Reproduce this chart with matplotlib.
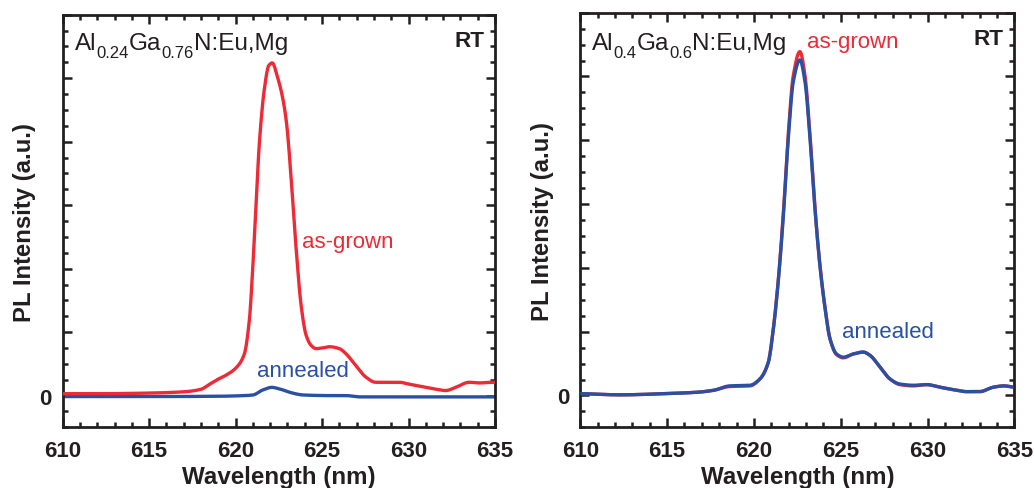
import matplotlib
matplotlib.use("Agg")
import matplotlib.pyplot as plt
import numpy as np
from matplotlib.ticker import MultipleLocator, FixedLocator

plt.rcParams['font.family'] = ['Liberation Sans', 'DejaVu Sans']

RED = '#ec2b36'
BLUE = '#2a50a4'
INK = '#231f20'

# Left panel: Al0.24Ga0.76N:Eu,Mg
wl_left_grown = [610, 612, 615, 617, 618, 618.5, 619, 619.5, 620, 620.5, 620.8, 621.0, 621.2, 621.38,
                 621.67, 621.92, 622.12, 622.44, 622.73, 622.96, 623.2, 623.5, 623.79, 624.08,
                 624.37, 624.65, 625.0, 625.42, 626.0, 626.38, 626.96, 627.54, 628.1, 628.8,
                 629.46, 630.04, 631.0, 631.6, 632.15, 632.73, 633.5, 634.1, 634.85, 635]
int_left_grown = [0.03, 0.03, 0.04, 0.06, 0.1, 0.18, 0.26, 0.33, 0.43, 0.65, 1.2, 2.05, 3.1, 4.0,
                  4.84, 5.2, 5.24, 5.0, 4.68, 4.26, 3.47, 2.32, 1.42, 0.95,
                  0.79, 0.74, 0.75, 0.77, 0.74, 0.66, 0.47, 0.29, 0.21, 0.21,
                  0.21, 0.18, 0.13, 0.1, 0.08, 0.13, 0.21, 0.2, 0.21, 0.21]
wl_left_ann = [610, 615, 619, 620.5, 621.0, 621.58, 622.1, 622.54, 623.3, 623.9, 625.6, 626.4, 627.2, 635]
int_left_ann = [-0.015, -0.015, -0.01, 0.0, 0.01, 0.09, 0.13, 0.105, 0.04, 0.01, 0.0, 0.0, -0.02, -0.02]

# Right panel: Al0.4Ga0.6N:Eu,Mg
wl_right = [610, 612.3, 615, 616.7, 617.66, 618.6, 619.77, 620.35, 620.83, 621.1, 621.4, 621.7,
            621.98, 622.27, 622.65, 622.94, 623.23, 623.5, 623.8, 624.1, 624.38, 624.76,
            625.15, 625.72, 626.3, 626.68, 627.25, 627.83, 628.4, 629.18, 629.95, 630.7,
            631.5, 632.25, 633.0, 633.8, 634.4, 634.95]
int_right_ann = [0.03, 0.01, 0.03, 0.05, 0.08, 0.15, 0.16, 0.26, 0.52, 1.0, 1.78, 2.83,
                 4.03, 4.92, 5.26, 4.92, 4.03, 2.98, 2.04, 1.36, 0.89, 0.65,
                 0.6, 0.65, 0.68, 0.63, 0.45, 0.26, 0.18, 0.16, 0.17, 0.13,
                 0.09, 0.06, 0.06, 0.13, 0.15, 0.13]
int_right_grown = [0.03, 0.01, 0.03, 0.05, 0.08, 0.14, 0.15, 0.26, 0.52, 1.0, 1.8, 2.88,
                   4.1, 5.02, 5.39, 5.02, 4.08, 3.0, 2.05, 1.37, 0.89, 0.64,
                   0.59, 0.65, 0.68, 0.63, 0.45, 0.26, 0.17, 0.15, 0.17, 0.13,
                   0.09, 0.06, 0.06, 0.13, 0.15, 0.13]

title_left = [('Al', False), ('0.24', True), ('Ga', False), ('0.76', True), ('N:Eu,Mg', False)]
title_right = [('Al', False), ('0.4', True), ('Ga', False), ('0.6', True), ('N:Eu,Mg', False)]


def smooth(x, y):
    x = np.asarray(x, float)
    y = np.asarray(y, float)
    xs = np.linspace(x[0], x[-1], 800)
    h = np.diff(x)
    d = np.diff(y) / h
    m = np.zeros_like(y)
    for k in range(1, len(x) - 1):
        if d[k - 1] * d[k] > 0:
            w1 = 2 * h[k] + h[k - 1]
            w2 = h[k] + 2 * h[k - 1]
            m[k] = (w1 + w2) / (w1 / d[k - 1] + w2 / d[k])
    m[0] = d[0]
    m[-1] = d[-1]
    idx = np.clip(np.searchsorted(x, xs) - 1, 0, len(x) - 2)
    t = (xs - x[idx]) / h[idx]
    h00 = 2 * t**3 - 3 * t**2 + 1
    h10 = t**3 - 2 * t**2 + t
    h01 = -2 * t**3 + 3 * t**2
    h11 = t**3 - t**2
    ys = h00 * y[idx] + h10 * h[idx] * m[idx] + h01 * y[idx + 1] + h11 * h[idx] * m[idx + 1]
    return xs, ys


fig = plt.figure(figsize=(10.34, 4.89), dpi=100)
axL = fig.add_axes([0.0606, 0.124, 0.4181, 0.844])
axR = fig.add_axes([0.5612, 0.124, 0.4198, 0.848])

LW = 2.4


def style(ax):
    ax.set_xlim(610, 635)
    ax.set_ylim(-0.5, 6.0)
    ax.xaxis.set_major_locator(MultipleLocator(5))
    ax.xaxis.set_minor_locator(MultipleLocator(1))
    ax.yaxis.set_major_locator(FixedLocator([0, 1, 2, 3, 4, 5, 6]))
    ax.yaxis.set_minor_locator(MultipleLocator(0.25))
    ax.set_yticklabels(['0', '', '', '', '', '', ''])
    ax.tick_params(axis='both', which='both', direction='in', top=True, right=True,
                   width=1.8, color=INK)
    ax.tick_params(axis='both', which='major', length=6.5)
    ax.tick_params(axis='both', which='minor', length=3.5)
    ax.tick_params(axis='x', which='major', labelsize=16, pad=9)
    ax.tick_params(axis='y', which='major', labelsize=16, pad=8)
    for lab in ax.get_xticklabels() + ax.get_yticklabels():
        lab.set_fontweight('bold')
        lab.set_color(INK)
    for sp in ax.spines.values():
        sp.set_linewidth(2.0)
        sp.set_color(INK)
    ax.set_xlabel('Wavelength (nm)', fontsize=17.4, fontweight='bold', color=INK, labelpad=3)
    ax.set_ylabel('PL Intensity (a.u.)', fontsize=17.2, fontweight='bold', color=INK, labelpad=2)
    ax.text(0.975, 0.924, 'RT', transform=ax.transAxes, ha='right', va='baseline',
            fontsize=16.2, fontweight='bold', color=INK)


def rich_title(parts, x_px, base_px):
    # x_px, base_px: figure pixel position (from top-left) of the start/baseline
    fig.canvas.draw()
    renderer = fig.canvas.get_renderer()
    H = fig.bbox.height
    x = x_px
    for txt, sub in parts:
        size = 12 if sub else 17.5
        dy = -8 if sub else 0
        t = fig.text(x / fig.bbox.width, (H - base_px + dy) / H, txt, fontsize=size,
                     ha='left', va='baseline', color=INK)
        bb = t.get_window_extent(renderer=renderer)
        x = bb.x1


# Left
xs, ys = smooth(wl_left_ann, int_left_ann)
axL.plot(xs, ys, color=BLUE, lw=LW, solid_capstyle='butt', zorder=2)
xs, ys = smooth(wl_left_grown, int_left_grown)
axL.plot(xs, ys, color=RED, lw=LW, solid_capstyle='butt', zorder=3)
style(axL)
axL.text(626.5, 2.42, 'as-grown', ha='center', va='center', fontsize=16, color=RED)
axL.text(623.9, 0.40, 'annealed', ha='center', va='center', fontsize=16, color=BLUE)

# Right
xs, ys = smooth(wl_right, int_right_grown)
axR.plot(xs, ys, color=RED, lw=LW, solid_capstyle='butt', zorder=2)
xs, ys = smooth(wl_right, int_right_ann)
axR.plot(xs, ys, color=BLUE, lw=LW, solid_capstyle='butt', zorder=3)
style(axR)
axR.text(625.68, 5.55, 'as-grown', ha='center', va='center', fontsize=16, color=RED)
axR.text(627.7, 1.0, 'annealed', ha='center', va='center', fontsize=16, color=BLUE)

rich_title(title_left, 75, 50)
rich_title(title_right, 592, 50)

fig.savefig('out.png', dpi=100)
